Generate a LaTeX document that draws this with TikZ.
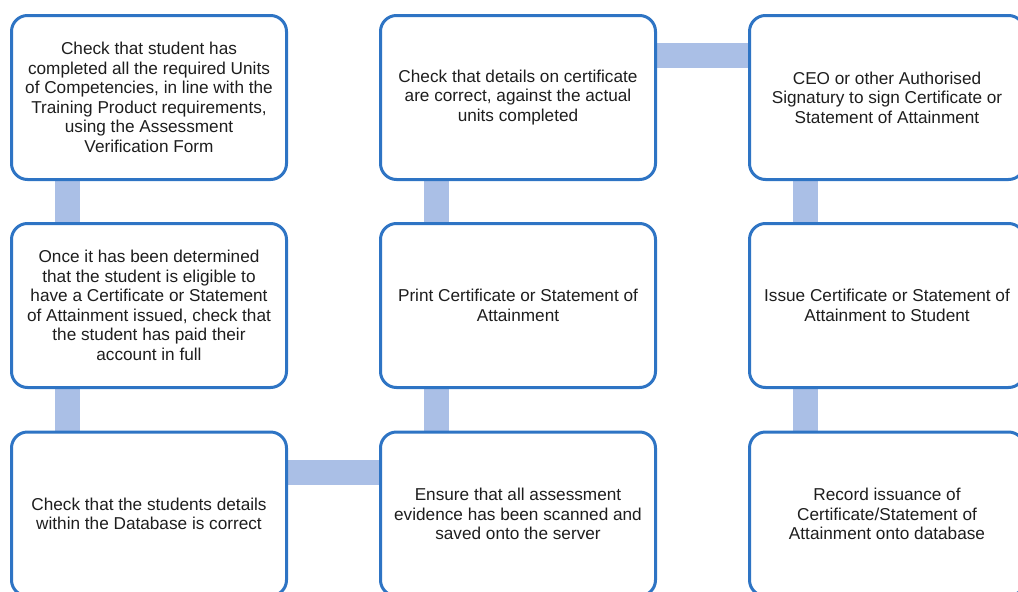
\documentclass[tikz,border=0pt]{standalone}
\usepackage{fontspec}
\setmainfont{Liberation Sans}
\usetikzlibrary{backgrounds}
\definecolor{boxblue}{HTML}{2E74C4}
\definecolor{connblue}{HTML}{AABFE6}
\definecolor{txt}{HTML}{1E1E1E}
\tikzset{
  stepbox/.style={draw=boxblue, line width=3pt, fill=white, rounded corners=16pt,
    minimum width=275pt, minimum height=164pt, inner sep=0pt, align=center,
    text=txt, font=\fontsize{17.2}{19.5}\selectfont},
  conn/.style={draw=connblue, line width=25pt, line cap=butt}
}
\begin{document}
\begin{tikzpicture}[x=1pt,y=-1pt]
\useasboundingbox (0,0) rectangle (1018,592);
\clip (0,0) rectangle (1018,592);
\node[stepbox] (a) at (149,97.5) {Check that student has\\completed all the required Units\\of Competencies, in line with the\\Training Product requirements,\\using the Assessment\\Verification Form};
\node[stepbox] (b) at (149,305.5) {Once it has been determined\\that the student is eligible to\\have a Certificate or Statement\\of Attainment issued, check that\\the student has paid their\\account in full};
\node[stepbox] (c) at (149,514) {Check that the students details\\within the Database is correct};
\node[stepbox] (d) at (518,514) {Ensure that all assessment\\evidence has been scanned and\\saved onto the server};
\node[stepbox] (e) at (518,305.5) {Print Certificate or Statement of\\Attainment};
\node[stepbox] (f) at (518,97.5) {Check that details on certificate\\are correct, against the actual\\units completed};
\node[stepbox] (g) at (887,97.5) {CEO or other Authorised\\Signatury to sign Certificate or\\Statement of Attainment};
\node[stepbox] (h) at (887,305.5) {Issue Certificate or Statement of\\Attainment to Student};
\node[stepbox] (i) at (887,514) {Record issuance of\\Certificate/Statement of\\Attainment onto database};
\begin{scope}[on background layer]
\draw[conn] ([xshift=-82pt]a.south) -- ([xshift=-82pt]b.north);
\draw[conn] ([xshift=-82pt]b.south) -- ([xshift=-82pt]c.north);
\draw[conn] ([yshift=42pt]c.east) -- ([yshift=42pt]d.west);
\draw[conn] ([xshift=-82pt]d.north) -- ([xshift=-82pt]e.south);
\draw[conn] ([xshift=-82pt]e.north) -- ([xshift=-82pt]f.south);
\draw[conn] ([yshift=42pt]f.east) -- ([yshift=42pt]g.west);
\draw[conn] ([xshift=-82pt]g.south) -- ([xshift=-82pt]h.north);
\draw[conn] ([xshift=-82pt]h.south) -- ([xshift=-82pt]i.north);
\end{scope}
\end{tikzpicture}
\end{document}
